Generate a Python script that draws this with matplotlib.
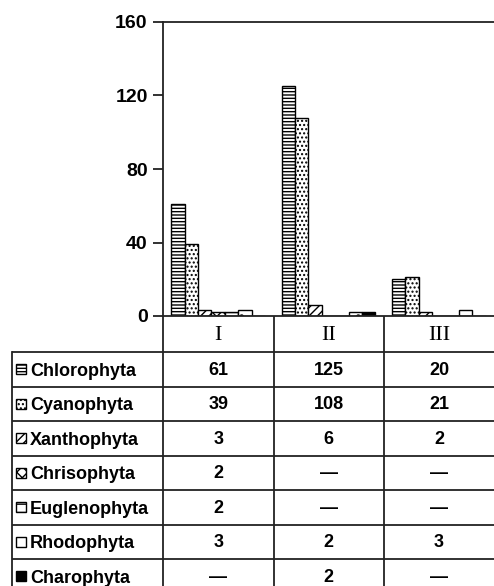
import matplotlib.pyplot as plt
from matplotlib.patches import Rectangle
import numpy as np

plt.rcParams['hatch.linewidth'] = 1.0

groups = ['I', 'II', 'III']
taxa = ['Chlorophyta', 'Cyanophyta', 'Xanthophyta', 'Chrisophyta',
        'Euglenophyta', 'Rhodophyta', 'Charophyta']
chlorophyta = [61, 125, 20]
cyanophyta = [39, 108, 21]
xanthophyta = [3, 6, 2]
chrisophyta = [2, 0, 0]
euglenophyta = [2, 0, 0]
rhodophyta = [3, 2, 3]
charophyta = [0, 2, 0]
counts = [chlorophyta, cyanophyta, xanthophyta, chrisophyta,
          euglenophyta, rhodophyta, charophyta]

hatches = ['-----', '....', '////', 'xxx', '--', '.', None]
faces = ['white'] * 6 + ['black']

W, H = 494, 586
fig = plt.figure(figsize=(W / 100, H / 100), dpi=100)

# bar chart part
ax = fig.add_axes([163 / W, 1 - 316 / H, 331 / W, 294 / H])
x = np.arange(len(groups))
bw = 0.1215
for i, vals in enumerate(counts):
    ax.bar(x + (i - 3) * bw, vals, width=bw, facecolor=faces[i],
           edgecolor='black', hatch=hatches[i], linewidth=1.0)

ax.set_xlim(-0.5, 2.5)
ax.set_ylim(0, 160)
ax.set_yticks([0, 40, 80, 120, 160])
ax.set_xticks([])
ax.spines['right'].set_visible(False)
for s in ['left', 'top', 'bottom']:
    ax.spines[s].set_linewidth(1.3)
    ax.spines[s].set_color('#222222')
ax.tick_params(axis='y', length=7, width=1.3, pad=4, color='#222222')
for lab in ax.get_yticklabels():
    lab.set_fontfamily('Liberation Sans')
    lab.set_fontweight('bold')
    lab.set_fontsize(14)

# data table underneath, in pixel units from the chart's baseline down
TH = H - 316
tb = fig.add_axes([0, 0, 1, TH / H])
tb.set_xlim(0, W)
tb.set_ylim(TH, 0)
tb.axis('off')

col_edges = [163, 273.5, 384, 494]
label_left = 12
header_h = 36
row_h = 34.5
lc = '#222222'
lw = 1.3

row_tops = [header_h + k * row_h for k in range(len(taxa))]
for y in row_tops:
    tb.plot([label_left, W], [y, y], color=lc, lw=lw, solid_capstyle='butt')
tb.plot([label_left, label_left], [header_h, TH], color=lc, lw=lw)
for xe in col_edges[:-1]:
    tb.plot([xe, xe], [0, TH], color=lc, lw=lw)

centers = [(col_edges[k] + col_edges[k + 1]) / 2 for k in range(3)]
for k, g in enumerate(groups):
    tb.text(centers[k], header_h / 2 + 1, g, ha='center', va='center',
            fontfamily='Liberation Serif', fontsize=16)

for i, name in enumerate(taxa):
    yc = header_h + (i + 0.5) * row_h
    tb.add_patch(Rectangle((16, yc - 5), 10, 10, facecolor=faces[i],
                           edgecolor='black', hatch=hatches[i], linewidth=1.0))
    tb.text(30, yc + 2, name, ha='left', va='center',
            fontfamily='Liberation Sans', fontweight='bold', fontsize=13)
    for k in range(len(groups)):
        v = counts[i][k]
        tb.text(centers[k], yc + 1, str(v) if v else '\u2014', ha='center',
                va='center', fontfamily='Liberation Sans',
                fontweight='bold', fontsize=13)

fig.savefig('out.png', dpi=100)
